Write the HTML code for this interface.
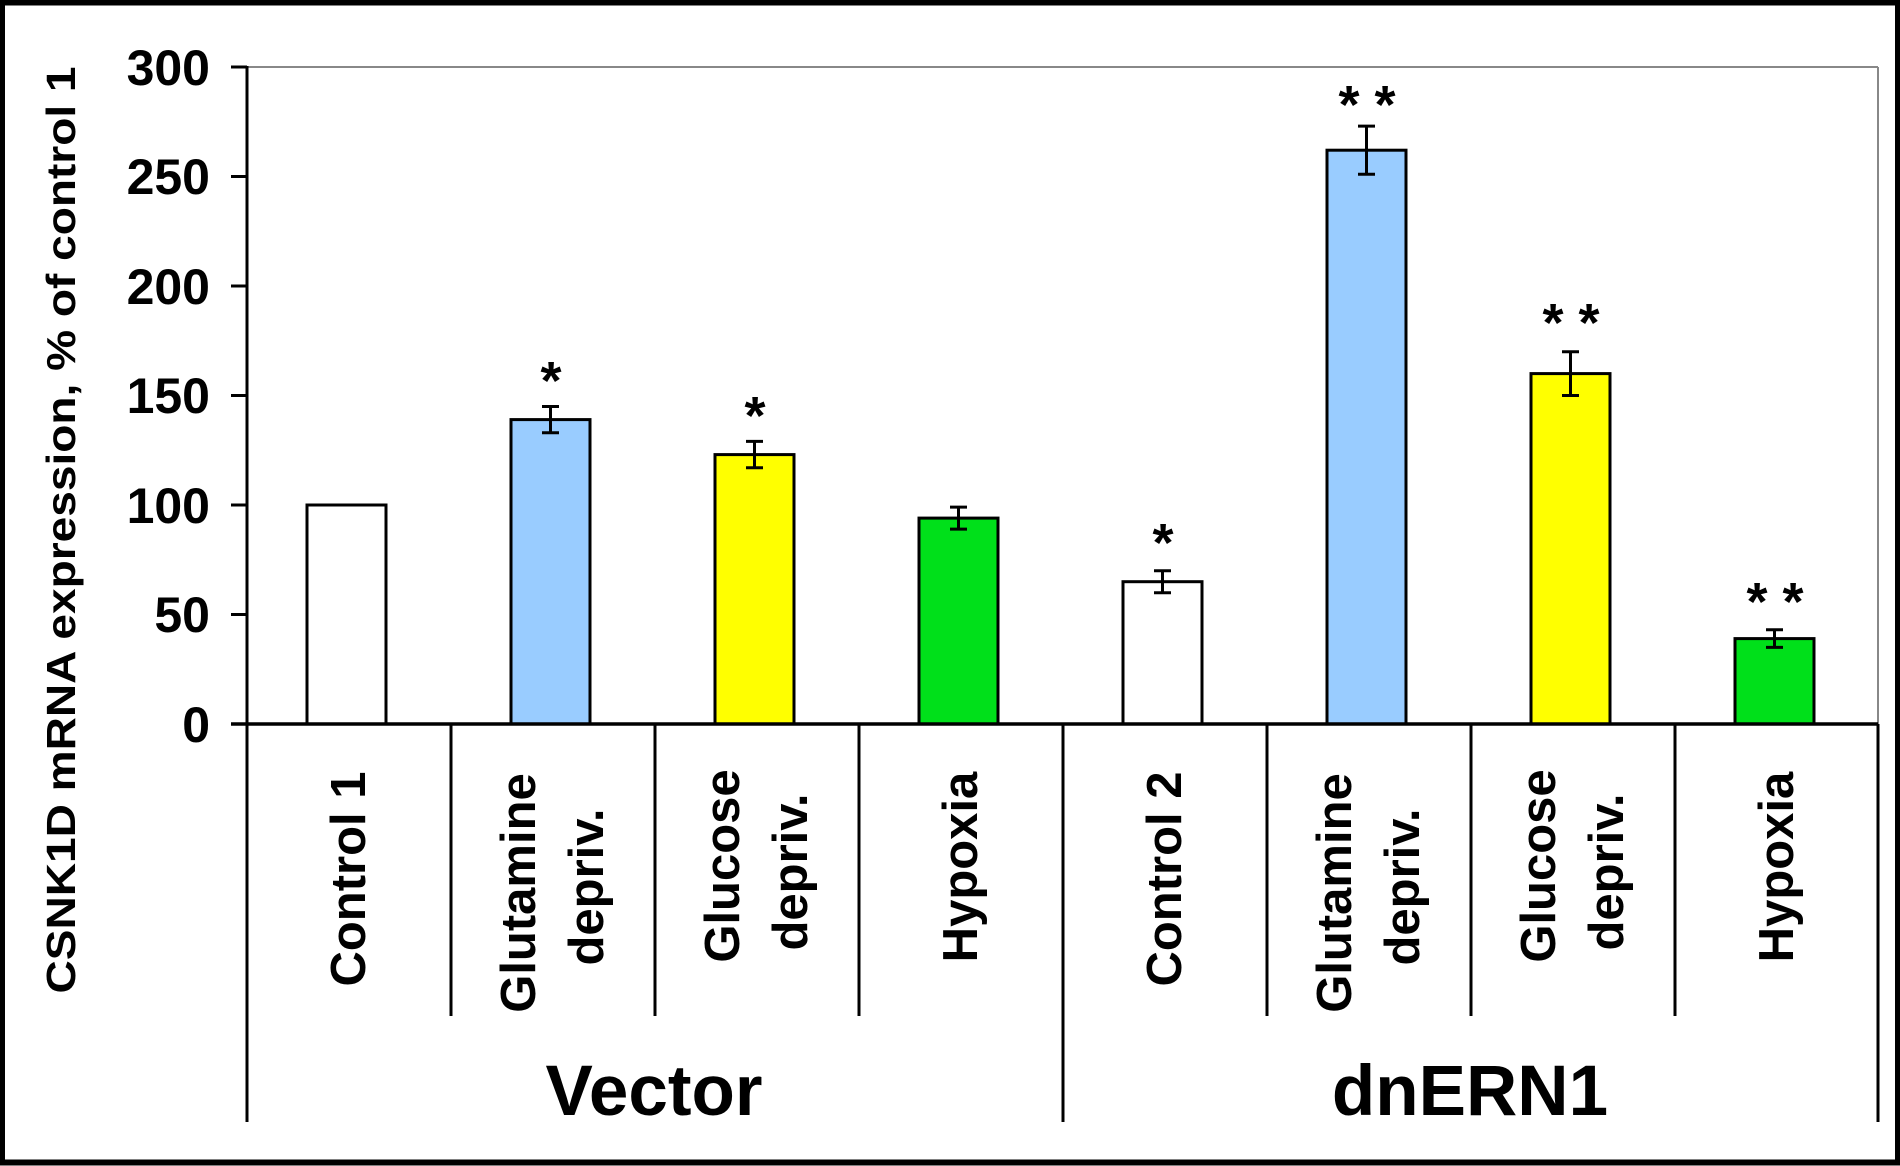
<!DOCTYPE html>
<html><head><meta charset="utf-8"><style>
html,body{margin:0;padding:0;background:#fff}
svg{display:block}
text{font-family:"Liberation Sans",Arial,sans-serif;font-weight:bold;fill:#000}
</style></head><body>
<svg width="1900" height="1166" viewBox="0 0 1900 1166" xmlns="http://www.w3.org/2000/svg">
<rect x="0" y="0" width="1900" height="1166" fill="#fff"/>
<rect x="2" y="2.5" width="1896" height="1160" fill="none" stroke="#000" stroke-width="6"/>
<line x1="247" y1="67" x2="1878" y2="67" stroke="#888" stroke-width="2"/>
<line x1="1878" y1="67" x2="1878" y2="724" stroke="#888" stroke-width="2"/>
<line x1="247" y1="66" x2="247" y2="1122" stroke="#000" stroke-width="3"/>
<g stroke="#000" stroke-width="3">
<line x1="231" y1="67" x2="247" y2="67"/>
<line x1="231" y1="176.5" x2="247" y2="176.5"/>
<line x1="231" y1="286" x2="247" y2="286"/>
<line x1="231" y1="395.5" x2="247" y2="395.5"/>
<line x1="231" y1="505" x2="247" y2="505"/>
<line x1="231" y1="614.5" x2="247" y2="614.5"/>
<line x1="231" y1="724" x2="247" y2="724"/>
</g>
<g font-size="50" text-anchor="end">
<text x="210" y="85">300</text>
<text x="210" y="194">250</text>
<text x="210" y="304">200</text>
<text x="210" y="413">150</text>
<text x="210" y="523">100</text>
<text x="210" y="632">50</text>
<text x="210" y="742">0</text>
</g>
<text transform="translate(61,530) rotate(-90)" font-size="41" text-anchor="middle" dominant-baseline="central" textLength="927" lengthAdjust="spacingAndGlyphs">CSNK1D mRNA expression, % of control 1</text>
<g stroke="#000" stroke-width="3">
<rect x="307" y="505" width="79" height="219" fill="#fff"/>
<rect x="511" y="419.6" width="79" height="304.4" fill="#99ccff"/>
<rect x="715" y="454.6" width="79" height="269.4" fill="#ffff00"/>
<rect x="919" y="518.1" width="79" height="205.9" fill="#00e01a"/>
<rect x="1123" y="581.7" width="79" height="142.3" fill="#fff"/>
<rect x="1327" y="150.2" width="79" height="573.8" fill="#99ccff"/>
<rect x="1531" y="373.6" width="79" height="350.4" fill="#ffff00"/>
<rect x="1735" y="638.6" width="79" height="85.4" fill="#00e01a"/>
</g>
<g stroke="#000" stroke-width="3">
<path d="M550.5 406.5V432.8M542 406.5H559M542 432.8H559"/>
<path d="M754.5 441.4V467.8M746 441.4H763M746 467.8H763"/>
<path d="M958.5 507.1V529.1M950 507.1H967M950 529.1H967"/>
<path d="M1162.5 570.7V592.7M1154 570.7H1171M1154 592.7H1171"/>
<path d="M1366.5 126.1V174.3M1358 126.1H1375M1358 174.3H1375"/>
<path d="M1570.5 351.7V395.5M1562 351.7H1579M1562 395.5H1579"/>
<path d="M1774.5 629.8V647.4M1766 629.8H1783M1766 647.4H1783"/>
</g>
<g font-size="54" text-anchor="middle">
<text x="551" y="399">*</text>
<text x="755" y="434">*</text>
<text x="1163" y="561">*</text>
<text x="1367" y="123">* *</text>
<text x="1571" y="341">* *</text>
<text x="1775" y="620">* *</text>
</g>
<line x1="231" y1="724" x2="1878" y2="724" stroke="#000" stroke-width="3.5"/>
<g stroke="#000" stroke-width="3">
<line x1="451" y1="724" x2="451" y2="1016"/>
<line x1="655" y1="724" x2="655" y2="1016"/>
<line x1="859" y1="724" x2="859" y2="1016"/>
<line x1="1063" y1="724" x2="1063" y2="1122"/>
<line x1="1267" y1="724" x2="1267" y2="1016"/>
<line x1="1471" y1="724" x2="1471" y2="1016"/>
<line x1="1675" y1="724" x2="1675" y2="1016"/>
<line x1="1878" y1="724" x2="1878" y2="1122"/>
</g>
<g font-size="49" text-anchor="middle" dominant-baseline="central">
<text transform="translate(349,879) rotate(-90)">Control 1</text>
<text transform="translate(519,893) rotate(-90)">Glutamine</text>
<text transform="translate(587,887) rotate(-90)">depriv.</text>
<text transform="translate(723,866) rotate(-90)">Glucose</text>
<text transform="translate(791,872) rotate(-90)">depriv.</text>
<text transform="translate(961,867) rotate(-90)">Hypoxia</text>
<text transform="translate(1165,879) rotate(-90)">Control 2</text>
<text transform="translate(1335,893) rotate(-90)">Glutamine</text>
<text transform="translate(1403,887) rotate(-90)">depriv.</text>
<text transform="translate(1539,866) rotate(-90)">Glucose</text>
<text transform="translate(1607,872) rotate(-90)">depriv.</text>
<text transform="translate(1777,867) rotate(-90)">Hypoxia</text>
</g>
<g font-size="71" text-anchor="middle">
<text x="654" y="1115">Vector</text>
<text x="1470" y="1115">dnERN1</text>
</g>
</svg>
</body></html>
